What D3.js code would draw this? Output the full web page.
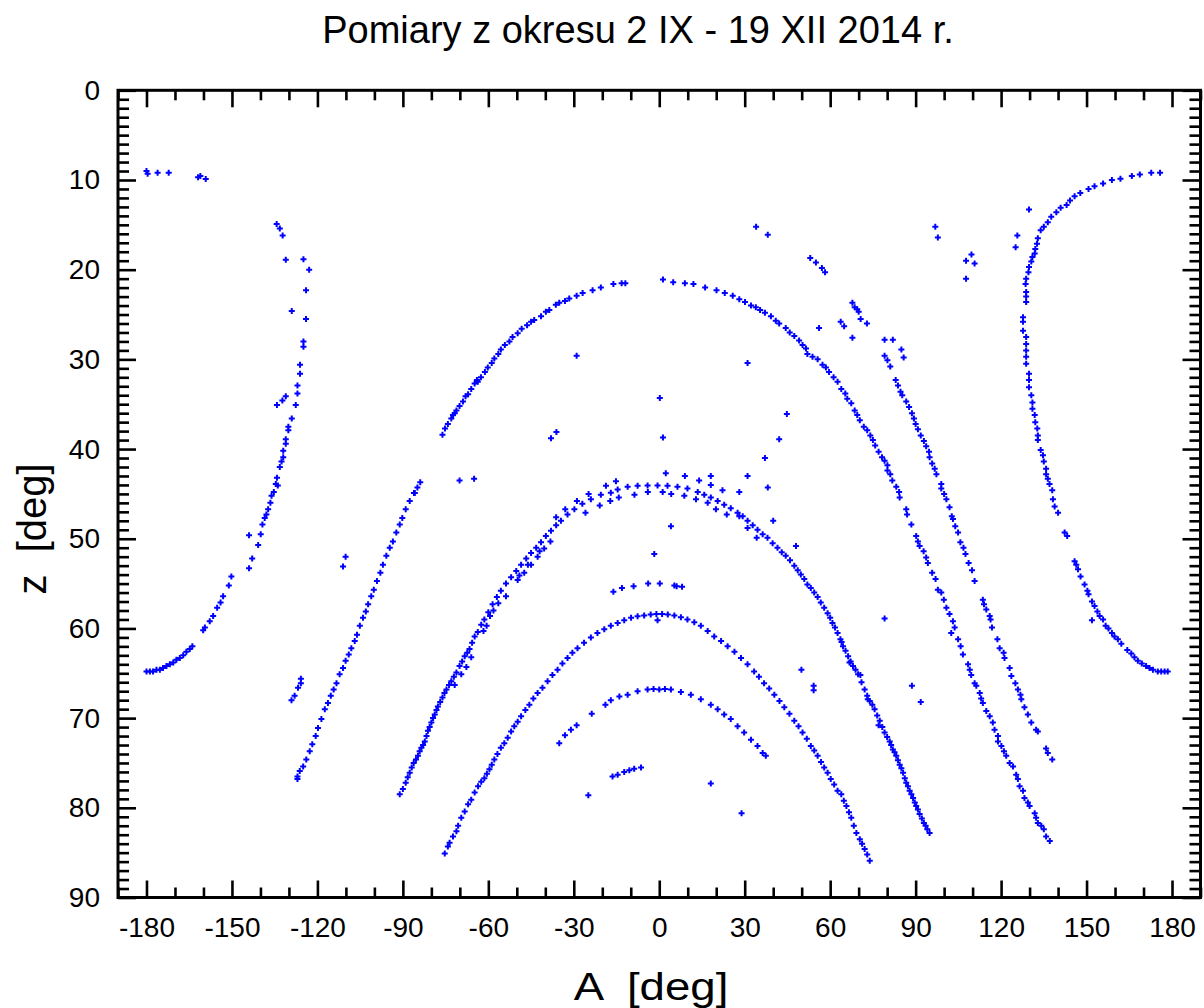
<!DOCTYPE html>
<html><head><meta charset="utf-8">
<script src="https://cdn.jsdelivr.net/npm/d3@7/dist/d3.min.js"></script>
<style>body{margin:0;background:#fff}text{font-family:"Liberation Sans",Arial,sans-serif;fill:#000}</style>
</head><body><svg id="c" width="1204" height="1008"></svg>
<script>
const chartTitle = "Pomiary z okresu 2 IX - 19 XII 2014 r.";
const xLabel = "A  [deg]";
const yLabel = "z  [deg]";
const xTickValues = [-180,-150,-120,-90,-60,-30,0,30,60,90,120,150,180];
const yTickValues = [0,10,20,30,40,50,60,70,80,90];

// outer arch (peak z~21) incl. its right branch down to A~137
const arch21 = [[-76.1,38.4],[-75.2,37.7],[-74.2,37.2],[-73.0,36.6],[-72.4,36.2],[-71.8,36.0],[-71.2,35.7],[-70.1,35.2],[-68.9,34.7],[-68.0,34.1],[-67.1,33.9],[-66.0,33.3],[-64.8,32.7],[-64.0,32.3],[-63.7,32.5],[-62.6,32.0],[-61.2,31.4],[-60.2,30.9],[-58.8,30.4],[-57.9,29.9],[-56.5,29.4],[-55.6,28.9],[-54.2,28.4],[-52.6,28.0],[-51.5,27.5],[-49.7,27.1],[-48.3,26.6],[-46.4,26.2],[-45.0,25.8],[-43.9,25.6],[-41.5,25.2],[-39.8,24.7],[-38.6,24.5],[-36.3,23.9],[-35.1,23.7],[-33.1,23.5],[-31.6,23.2],[-29.0,22.9],[-26.9,22.6],[-23.4,22.3],[-20.5,22.0],[-16.1,21.6],[-13.2,21.5],[-11.9,21.5],
[1.3,21.1],[4.9,21.4],[9.0,21.5],[12.0,21.6],[16.1,22.0],[20.1,22.3],[23.0,22.6],[25.8,22.9],[28.1,23.3],[30.1,23.6],[32.2,24.0],[33.9,24.2],[35.4,24.5],[37.1,24.8],[39.2,25.2],[40.9,25.7],[42.1,26.0],[44.4,26.5],[45.8,27.0],[47.4,27.4],[49.1,27.9],[50.3,28.4],[51.5,28.8],[52.0,29.4],[53.8,29.7],[55.6,30.0],[57.3,30.6],[58.5,30.9],[59.6,31.4],[61.2,32.0],[62.6,32.5],
[63.9,33.3],[65.3,33.8],[66.0,34.4],[67.4,34.9],[68.6,35.7],[69.5,36.2],[70.4,36.8],[71.8,37.5],[73.0,37.9],[74.1,38.5],[75.0,39.0],[75.8,39.6],[77.0,40.3],[78.2,40.9],[79.1,41.3],[80.1,41.8],[80.1,42.4],[81.1,42.8],[81.8,43.5],[83.2,44.2],[84.2,44.8],
[84.4,45.4],[86.7,46.7],[87.0,47.3],[88.5,48.4],[90.2,49.7],[90.8,50.3],[91.4,50.8],[92.8,51.4],[93.7,52.1],[94.3,52.7],[95.8,53.8],[97.0,54.5],[97.8,55.7],[99.0,56.0],[99.9,56.8],[100.8,57.7],[101.9,58.4],[103.1,59.2],[103.7,59.9],[102.5,60.5],[104.9,61.2],[105.8,62.0],[106.6,62.9],[108.4,64.0],[109.0,64.6],[109.5,65.2],[110.7,66.1],[111.3,66.4],[112.5,67.2],[113.0,67.8],[113.6,68.3],[114.8,69.2],[116.0,69.8],[117.1,70.5],[117.7,71.3],[118.9,72.0],[118.9,72.6],[120.1,73.1],[121.0,73.7],[121.8,74.2],[123.0,75.0],[124.2,75.4],[125.3,76.3],[125.9,76.8],[126.5,77.6],[127.7,78.1],[128.2,78.9],[129.4,79.4],[130.0,79.8],[131.8,80.6],[132.3,81.1],[132.9,81.7],[134.1,82.0],[135.0,82.4],[135.8,83.2],[137.1,83.7]];

// arch with peak z~44
const arch44 = [[-91.1,78.5],[-90.0,77.9],[-89.0,77.2],[-88.3,76.6],[-87.6,76.1],[-86.9,75.5],[-86.2,75.0],[-85.4,74.6],[-84.7,74.2],[-84.1,73.7],[-83.5,73.3],[-82.9,73.0],[-82.3,72.6],[-81.7,72.0],[-81.2,71.4],[-80.6,71.0],[-80.0,70.5],[-79.4,70.0],[-78.8,69.6],[-78.2,69.1],[-77.7,68.7],[-76.9,68.2],[-76.1,67.7],[-75.4,67.2],[-74.7,66.8],[-73.8,66.3],[-73.0,65.9],[-72.1,65.4],[-71.2,64.9],[-70.1,64.2],[-69.2,63.7],[-68.3,63.1],[-67.4,62.7],[-66.6,62.3],[-65.7,61.6],[-64.8,60.9],[-63.7,60.4],[-62.5,59.6],[-61.4,59.0],[-60.0,58.2],[-58.5,57.3],[-57.0,56.5],[-55.6,55.8],[-53.8,55.0],[-52.0,54.3],[-50.2,53.6],[-48.5,52.9],[-46.7,52.2],[-45.0,51.6],[-43.2,51.0],[-41.5,50.4],[-39.8,49.7],[-38.0,49.1],[-36.2,48.5],[-34.5,48.0],[-32.2,47.3],[-29.8,46.7],[-27.0,46.1],[-24.0,45.6],[-20.5,45.1],[-17.0,44.87],[-14.6,44.5],[-11.1,44.2],[-7.6,44.1],[-4.1,44.05],[-0.6,44.05],[2.9,44.1],[6.4,44.2],[9.9,44.4],[13.5,44.8],[15.8,45.1],[18.1,45.4],[20.5,45.8],[22.8,46.2],[25.1,46.6],[27.5,47.1],[29.3,47.5],[31.0,48.0],[32.8,48.5],[34.5,49.0],[36.3,49.5],[38.0,49.9],[39.8,50.5],[41.5,51.0],[43.0,51.5],[44.4,51.9],[45.9,52.4],[47.4,53.0],[48.6,53.5],[49.7,54.0],[50.9,54.5],[52.0,55.1],[53.2,55.5],[54.4,56.0],[55.6,56.5],[56.7,57.1],[57.9,57.7],[59.1,58.3],[60.0,58.8],[60.8,59.4],[61.7,59.9],[62.6,60.5],[63.6,61.2],[64.5,62.0],[65.4,62.5],[66.3,63.1],[67.2,63.7],[68.0,64.2],[68.9,64.6],[69.8,65.1],[71.0,66.0],[72.1,66.8],[73.0,67.5],[73.9,68.1],[74.8,68.5],[75.6,69.0],[76.5,69.7],[77.4,70.3],[78.3,71.0],[79.1,71.6],[80.0,72.1],[80.9,72.6],[81.4,73.0],[82.0,73.5],[82.6,73.8],[83.2,74.2],[83.8,74.7],[84.4,75.2],[85.0,75.6],[85.6,76.1],[86.2,76.7],[86.7,77.2],[87.3,77.6],[87.9,78.1],[88.5,78.5],[89.1,78.9],[89.7,79.4],[90.2,79.8],[90.8,80.2],[91.4,80.7],[92.2,81.2],[92.9,81.7],[93.5,82.0],[94.1,82.4],[94.9,82.8]];

// secondary band and stray points around the z~44 arch
const arch44Band = [[-40.4,51.1],[-42.7,52.0],[-45.0,52.9],[-47.4,53.8],[-49.7,54.6],[-53.8,56.4],[-56.5,57.2],[-58.2,58.0],[-59.4,58.6],[-60.6,59.7],[-61.7,60.3],[-66.0,63.2],[-67.7,64.3],[-69.5,65.1],[-71.8,66.3],
[-18.7,44.1],[-15.2,43.6],[-24.8,45.0],[-28.9,45.8],[-33.0,46.7],[-36.2,47.6],[-38.2,50.3],[-42.0,51.4],[-46.1,52.9],[-49.1,54.1],[-20.9,46.3],[-25.9,47.1],[-17.2,45.8],[-14.2,45.4],[-8.7,45.1],[-4.0,44.8],[1.2,44.8],[4.2,45.0],[8.8,45.2],[12.9,45.6],[17.0,46.0],[19.9,46.7],[23.7,47.3],[28.1,47.5],[31.0,48.8],[34.2,49.9],[64.0,61.5],[66.8,63.8],[70.6,65.2],[73.2,67.9],[77.0,70.8]];

// arch with peak z~58.5
const arch58 = [[-75.3,85.1],[-74.2,84.3],[-73.6,83.9],[-72.4,83.2],[-71.2,82.6],[-70.6,82.0],[-69.5,81.1],[-68.3,80.4],[-67.1,79.6],[-66.0,79.1],[-64.8,78.3],[-63.6,77.6],[-62.5,77.1],[-61.4,76.7],[-60.5,76.2],[-59.6,75.7],[-58.8,75.2],[-57.9,74.6],[-56.8,74.0],[-55.6,73.3],[-54.4,72.8],[-53.2,72.2],[-52.0,71.5],[-50.9,70.9],[-49.7,70.4],[-48.5,69.8],[-47.0,69.1],[-45.6,68.5],[-44.2,67.8],[-42.7,67.2],[-41.0,66.6],[-39.2,65.9],[-37.5,65.2],[-35.7,64.6],[-34.0,63.9],[-32.2,63.3],[-30.5,62.7],[-28.7,62.2],[-26.4,61.6],[-24.0,61.0],[-21.7,60.5],[-19.3,60.1],[-17.0,59.7],[-14.6,59.4],[-12.3,59.1],[-9.9,58.8],[-7.6,58.65],[-5.3,58.55],[-3.0,58.45],[-1.0,58.4],[1.0,58.4],[3.0,58.45],[5.3,58.55],[7.6,58.75],[9.9,59.0],[12.3,59.3],[14.6,59.7],[17.0,60.3],[19.3,60.9],[21.7,61.4],[24.0,62.0],[26.4,62.6],[28.7,63.3],[31.0,64.0],[33.3,64.8],[35.0,65.4],[36.8,66.1],[38.6,66.7],[40.4,67.4],[42.2,68.1],[43.9,68.8],[45.7,69.5],[47.4,70.3],[48.9,70.9],[50.3,71.6],[51.8,72.3],[53.2,73.1],[54.4,73.6],[55.6,74.2],[56.8,74.9],[57.9,75.5],[59.1,76.1],[60.2,76.8],[61.4,77.4],[62.6,78.1],[63.9,78.5],[64.8,79.2],[65.7,79.8],[66.6,80.5],[67.4,81.1],[68.3,82.0],[69.2,82.8],[70.4,83.5],[71.2,84.0],[72.1,84.6],[73.0,85.2],[73.9,85.9]];

// arch with peak z~67
const arch67 = [[-35.1,72.8],[-33.1,71.9],[-31.0,71.3],[-29.0,70.8],[-23.7,69.5],[-18.9,68.5],[-17.0,68.0],[-14.0,67.6],[-11.1,67.4],[-7.6,67.0],[-4.1,66.8],[-2.0,66.75],[0.0,66.8],[2.0,66.75],[4.1,66.8],[7.6,67.1],[11.1,67.4],[14.6,67.9],[18.1,68.5],[20.5,69.0],[22.8,69.6],[25.1,70.1],[27.5,70.9],[29.8,71.6],[32.2,72.4],[34.5,73.1],[36.3,73.9],[37.4,74.2]];

// short arc near z~76
const arc76 = [[-16.4,76.5],[-14.6,76.3],[-12.3,76.0],[-10.5,75.8],[-8.8,75.65],[-6.4,75.5]];

// curve from A~-84 (z~44) to A~-127 (z~77)
const curveWest = [[-83.9,43.7],[-84.9,44.3],[-86.1,44.9],[-85.8,44.9],[-87.6,45.8],[-89.0,46.7],[-90.2,47.7],[-91.1,48.4],[-92.3,49.3],[-93.5,50.3],[-94.6,51.0],[-95.8,51.9],[-97.0,52.9],[-97.9,53.8],[-99.1,54.7],[-100.2,55.7],[-101.1,56.4],[-102.2,57.3],[-103.0,58.1],[-104.0,58.8],[-105.1,59.7],[-106.1,60.7],[-106.9,61.4],[-108.1,62.2],[-109.0,62.9],[-110.1,63.6],[-111.0,64.4],[-112.2,65.1],[-113.3,66.1],[-114.3,66.8],[-115.3,67.5],[-116.3,68.3],[-117.4,69.0],[-118.6,70.1],[-119.8,71.1],[-120.6,72.0],[-121.8,72.9],[-122.7,73.7],[-123.9,74.6],[-125.0,75.4],[-126.2,75.9],[-127.0,76.5],[-127.0,76.8]];

// curve from A~79 (z~28) to A~138 (z~75)
const curveEast = [[79.1,27.8],[82.0,27.8],[79.1,29.6],[80.1,30.1],[81.1,30.8],[85.0,28.9],[85.8,29.8],[83.0,32.3],[83.8,32.9],[84.7,33.6],[85.3,34.0],[86.7,34.7],[87.7,35.3],[88.7,36.0],[89.4,36.6],[90.0,37.2],[90.8,37.8],[91.8,38.5],[92.9,39.1],[93.7,39.7],[94.7,40.3],[94.9,40.9],[95.8,41.6],[96.7,42.2],[97.3,42.8],[99.0,43.9],[99.0,44.4],[100.0,45.0],[100.8,45.6],[101.9,46.5],[102.7,47.5],[103.1,47.8],[103.9,48.6],[104.9,49.3],[105.7,50.4],[106.8,51.0],[107.5,51.7],[108.6,52.7],[109.8,53.5],[110.7,54.7],
[113.6,56.8],[114.0,57.3],[114.8,57.9],[116.0,58.6],[116.3,59.0],[116.8,59.9],[118.7,61.2],[119.5,62.2],[120.9,62.7],[121.2,63.3],[123.0,64.4],[123.6,65.3],[125.0,66.1],[125.9,66.8],[126.8,67.4],[127.1,67.9],[128.2,68.8],[129.4,69.6],[130.6,70.5],[132.3,71.3],[132.9,71.5],[135.8,73.4],[136.4,73.9],[137.95,74.6]];

// left-hand track (A -122..-180)
const trackLeft = [[-134.3,14.9],[-133.2,15.4],[-132.2,16.2],[-131.1,18.9],[-124.9,18.85],[-122.9,20.0],[-124.0,22.3],[-129.0,24.6],[-124.0,25.5],[-124.9,28.0],[-124.9,28.6],[-126.1,30.6],[-126.1,31.6],[-127.0,32.9],[-127.0,33.8],[-131.1,34.1],[-132.3,34.6],[-134.2,35.1],[-127.6,35.1],[-129.0,36.6],[-130.2,37.5],[-130.2,37.9],[-131.1,38.9],[-131.1,39.4],[-132.0,40.2],[-132.0,40.9],[-132.6,41.4],[-133.2,42.0],[-134.2,43.2],[-134.6,43.9],[-133.9,44.05],[-135.3,44.8],[-136.1,45.2],[-136.5,46.0],[-137.3,46.7],[-137.9,47.3],[-138.5,47.7],[-139.3,48.4],[-139.9,49.5],[-140.8,50.7],[-144.0,49.6],[-142.9,52.2],[-144.0,53.3],[-150.2,54.2],[-151.1,55.2],[-153.1,56.4],[-154.0,57.1],[-155.2,57.7],[-156.6,58.6],[-157.8,59.2],[-159.5,59.9],[-160.1,60.2],[-163.9,62.0],[-164.8,62.3],[-166.0,62.6],[-167.1,63.0],[-168.3,63.3],[-169.5,63.5],[-170.6,63.8],[-171.8,64.0],[-173.0,64.2],[-174.2,64.4],[-175.3,64.6],[-176.5,64.6],[-177.7,64.8],[-178.8,64.8],[-180.0,64.8]];

// right-hand track (A 128..178)
const trackRight = [[175.8,9.2],[172.7,9.2],[168.7,9.4],[165.9,9.55],[161.9,9.85],[158.9,10.0],[155.8,10.4],[152.8,10.7],[150.7,11.0],[147.8,11.45],[145.8,11.8],[144.2,12.3],[143.0,12.8],[140.9,13.1],[139.4,13.6],[137.6,14.1],[136.4,14.7],[135.0,15.2],[133.9,15.6],[132.9,16.5],[132.6,17.1],[132.0,17.7],[131.8,18.2],[131.0,18.6],[130.6,19.1],[129.8,19.7],[129.6,20.3],[128.8,21.0],[128.6,21.6],[128.8,22.5],[128.8,23.0],[128.8,23.6],[127.7,25.3],[127.7,25.8],[127.7,26.8],[128.8,27.5],[128.8,28.3],[128.8,29.0],[128.8,29.7],[128.8,30.5],[129.8,31.6],[129.8,32.3],[129.8,33.1],[130.6,34.0],[131.0,34.8],[131.0,35.5],[131.8,36.2],[132.0,37.0],[132.7,37.7],[132.9,38.5],[132.9,39.0],[133.9,40.1],[134.7,40.7],[135.0,41.4],[135.8,42.2],[135.8,42.8],[136.4,43.3],[137.0,43.9],[137.95,44.6],[138.2,45.6],[138.8,46.4],[140.0,47.1],[142.3,49.3],[143.2,49.7],[145.8,52.5],[146.4,52.9],[147.0,53.4],[147.9,54.2],[149.3,55.1],[150.3,55.8],[150.7,56.2],[151.9,57.0],[152.8,57.5],[153.8,58.1],[154.6,58.6],[155.8,59.0],[156.7,59.7],[157.7,60.0],[158.9,60.5],[159.8,60.9],[161.0,61.2],[162.2,61.7],[164.3,62.4],[165.7,62.8],[166.8,63.2],[168.0,63.6],[169.4,63.9],[170.9,64.2],[172.1,64.4],[173.3,64.6],[175.0,64.8],[176.2,64.8],[177.4,64.8],[178.5,64.8]];

// isolated measurements
const strayPoints = [[-180.0,9.0],[-179.6,9.3],[-176.1,9.2],[-172.2,9.2],[-161.9,9.7],[-161.1,9.55],[-159.2,9.9],
[34.0,15.2],[38.1,16.1],[53.0,18.7],[55.0,19.2],[57.1,19.8],[58.2,20.3],[56.1,26.5],[31.0,30.4],[-29.0,29.6],[0.2,34.3],[44.8,36.1],[42.1,38.9],[37.1,41.0],[38.1,44.3],[31.0,43.0],[18.1,43.0],[18.1,44.0],[14.0,43.5],[9.0,43.0],[2.3,42.7],[1.3,38.7],[-38.0,38.8],[-36.1,38.1],[22.2,44.6],[28.1,44.8],[-70.1,43.5],[-65.0,43.3],
[129.8,13.3],[125.7,16.2],[125.1,17.5],[96.9,15.2],[97.8,16.4],[109.6,18.3],[107.7,19.0],[110.7,19.3],[107.7,21.0],
[67.8,23.7],[68.6,24.2],[69.5,24.4],[70.0,24.7],[70.7,25.5],[72.9,26.0],[63.7,25.8],[64.9,26.3],[67.8,27.6],
[18.1,77.3],[-24.9,78.6],[28.9,80.6],[4.1,48.6],[-1.75,51.7],[40.0,48.0],[48.0,50.8],[49.9,64.6],[54.2,66.4],[54.2,66.9],[-0.6,59.1],
[-16.1,55.9],[-13.1,55.5],[-9.0,55.3],[-3.9,55.0],[0.2,55.0],[5.3,55.2],[6.1,55.3],[8.0,55.35],
[79.1,58.9],[88.7,66.4],[91.8,68.2],[151.9,59.1],
[-111.0,53.1],[-110.1,52.0],[-129.1,68.0],[-128.0,67.5],[-126.8,66.6],[-125.8,66.1],[-125.8,65.6]];

const allSeries = [arch21, arch44, arch44Band, arch58, arch67, arc76, curveWest, curveEast, trackLeft, trackRight, strayPoints];

(function(){
const svg = d3.select("#c");
const pL = 118, pR = 1200.5, pT = 90.3, pB = 897.5;
const x = d3.scaleLinear().domain([-190, 190]).range([pL, pR]);
const y = d3.scaleLinear().domain([0, 90]).range([pT, pB]);

const plus = "M-3,0H3M0,-3V3";
const g = svg.append("g");
allSeries.forEach(s => {
  g.selectAll(null).data(s).enter().append("path")
    .attr("d", plus)
    .attr("transform", d => `translate(${x(d[0])},${y(d[1])})`)
    .attr("stroke", "#0000ff").attr("stroke-width", 2).attr("fill", "none");
});

const minorX = d3.range(-190, 191, 10).filter(v => v % 30 !== 0);
const minorY = d3.range(0, 91, 1).filter(v => v % 10 !== 0);
const fmt = d => String(d);
function styleAxis(sel){ sel.select(".domain").remove(); sel.selectAll("line").attr("stroke","#000").attr("stroke-width",2.6); sel.selectAll("text").attr("font-size",28).attr("fill","#000").attr("font-family","Liberation Sans, Arial, sans-serif"); }

svg.append("g").attr("transform",`translate(0,${pB})`).call(d3.axisBottom(x).tickValues(xTickValues).tickSize(-17).tickPadding(20).tickFormat(fmt)).call(styleAxis);
svg.append("g").attr("transform",`translate(0,${pB})`).call(d3.axisBottom(x).tickValues(minorX).tickSize(-10).tickFormat("")).call(styleAxis);
svg.append("g").attr("transform",`translate(0,${pT})`).call(d3.axisTop(x).tickValues(xTickValues).tickSize(-17).tickFormat("")).call(styleAxis);
svg.append("g").attr("transform",`translate(0,${pT})`).call(d3.axisTop(x).tickValues(minorX).tickSize(-10).tickFormat("")).call(styleAxis);
svg.append("g").attr("transform",`translate(${pL},0)`).call(d3.axisLeft(y).tickValues(yTickValues).tickSize(-18).tickPadding(18).tickFormat(fmt)).call(styleAxis);
svg.append("g").attr("transform",`translate(${pL},0)`).call(d3.axisLeft(y).tickValues(minorY).tickSize(-11).tickFormat("")).call(styleAxis);
svg.append("g").attr("transform",`translate(${pR},0)`).call(d3.axisRight(y).tickValues(yTickValues).tickSize(-18).tickFormat("")).call(styleAxis);
svg.append("g").attr("transform",`translate(${pR},0)`).call(d3.axisRight(y).tickValues(minorY).tickSize(-11).tickFormat("")).call(styleAxis);

svg.append("rect").attr("x",pL).attr("y",pT).attr("width",pR-pL).attr("height",pB-pT)
  .attr("fill","none").attr("stroke","#000").attr("stroke-width",3);

svg.append("text").attr("x",638).attr("y",43).attr("text-anchor","middle").attr("font-size",38).text(chartTitle);
svg.append("text").attr("transform","translate(651,1000) scale(1.2,1)").attr("text-anchor","middle").attr("font-size",38).style("white-space","pre").text(xLabel);
svg.append("text").attr("transform","translate(46,529) rotate(-90)").attr("text-anchor","middle").attr("font-size",40).style("white-space","pre").text(yLabel);
})();
</script></body></html>
